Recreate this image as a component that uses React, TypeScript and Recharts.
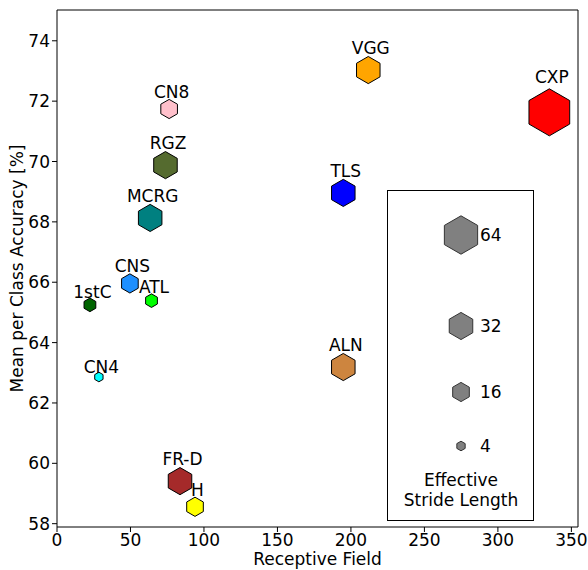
import React from 'react';
import { ScatterChart, Scatter, XAxis, YAxis, Legend, Label } from 'recharts';

const MODELS = ['CXP', 'VGG', 'CN8', 'RGZ', 'TLS', 'MCRG', 'CNS', 'ATL', '1stC', 'ALN', 'CN4', 'FR-D', 'H'];
const RECEPTIVE_FIELD = [335.0, 211.8, 76.3, 73.8, 194.8, 63.4, 49.6, 64.3, 22.4, 194.8, 28.5, 83.7, 93.9];
const ACCURACY = [71.63, 73.03, 71.74, 69.88, 68.96, 68.13, 65.96, 65.39, 65.25, 63.19, 62.86, 59.41, 58.56];
const STRIDE = [96, 32, 16, 32, 32, 32, 16, 8, 8, 32, 4, 32, 16];
const COLORS = ['#ff0000', '#ffa500', '#ffc0cb', '#556b2f', '#0000ff', '#008080', '#1e90ff', '#00ff00', '#006400', '#cd853f', '#00ffff', '#a52a2a', '#ffff00'];
const LEGEND_STRIDES = [64, 32, 16, 4];
const X_TICKS = [0, 50, 100, 150, 200, 250, 300, 350];
const Y_TICKS = [58, 60, 62, 64, 66, 68, 70, 72, 74];

const data = MODELS.map((name, i) => ({
  name,
  rf: RECEPTIVE_FIELD[i],
  acc: ACCURACY[i],
  stride: STRIDE[i],
  color: COLORS[i],
}));

const FONT = 'DejaVu Sans';
const FS = 17;
const K = 2.4;
const radius = (s: number) => K * Math.sqrt(s);

const hexPoints = (cx: number, cy: number, r: number) => {
  const pts: string[] = [];
  for (let k = 0; k < 6; k++) {
    const a = (-90 + 60 * k) * Math.PI / 180;
    pts.push(`${cx + r * Math.cos(a)},${cy + r * Math.sin(a)}`);
  }
  return pts.join(' ');
};

const HexShape = (props: any) => {
  const { cx, cy, payload } = props;
  const r = radius(payload.stride);
  return <polygon points={hexPoints(cx, cy, r)} fill={payload.color} stroke="#000" strokeWidth={1} />;
};

const LabelShape = (props: any) => {
  const { cx, cy, payload } = props;
  const r = radius(payload.stride);
  return (
    <text x={cx + 2.5} y={cy - (1.35 * r - 2)} textAnchor="middle" fontSize={FS} fontFamily={FONT} fill="#000">
      {payload.name}
    </text>
  );
};

const ROW_Y = [45, 136, 202, 256];

const StrideLegend = () => (
  <svg width={147} height={331} style={{ display: 'block' }}>
    <rect x={0.5} y={0.5} width={146} height={330} fill="#fff" stroke="#000" strokeWidth={1} />
    {LEGEND_STRIDES.map((s, i) => (
      <g key={s}>
        <polygon points={hexPoints(74, ROW_Y[i], radius(s))} fill="#808080" stroke="#333" strokeWidth={1} />
        <text x={93} y={ROW_Y[i]} dy="0.36em" fontSize={FS} fontFamily={FONT} fill="#000">{s}</text>
      </g>
    ))}
    <text x={74} y={296} textAnchor="middle" fontSize={FS} fontFamily={FONT} fill="#000">Effective</text>
    <text x={74} y={316} textAnchor="middle" fontSize={FS} fontFamily={FONT} fill="#000">Stride Length</text>
  </svg>
);

export default function App() {
  const tickStyle = { fontSize: FS, fontFamily: FONT, fill: '#000' };
  return (
    <div style={{ position: 'absolute', left: 0, top: 0 }}>
      <ScatterChart width={588} height={570} margin={{ top: 9, right: 9, left: 0, bottom: 0 }}>
        <XAxis
          xAxisId="b"
          type="number"
          dataKey="rf"
          domain={[0, 354.5]}
          ticks={X_TICKS}
          allowDataOverflow
          height={43}
          tickSize={5}
          tickMargin={2}
          tick={tickStyle}
          stroke="#000"
          tickLine={{ stroke: '#000' }}
          axisLine={{ stroke: '#000' }}
        >
          <Label
            content={(p: any) => {
              const vb = p.viewBox;
              return (
                <text x={vb.x + vb.width / 2} y={vb.y + 38} textAnchor="middle" fontSize={FS} fontFamily={FONT} fill="#000">
                  Receptive Field
                </text>
              );
            }}
          />
        </XAxis>
        <XAxis xAxisId="t" orientation="top" type="number" dataKey="rf" domain={[0, 354.5]} allowDataOverflow height={1} tick={false} tickLine={false} stroke="#000" axisLine={{ stroke: '#000' }} />
        <YAxis
          yAxisId="l"
          type="number"
          dataKey="acc"
          domain={[57.89, 75.02]}
          ticks={Y_TICKS}
          allowDataOverflow
          width={57}
          tickSize={5}
          tickMargin={2}
          tick={tickStyle}
          tickLine={{ stroke: '#000' }}
          axisLine={{ stroke: '#000' }}
        >
          <Label
            content={(p: any) => {
              const vb = p.viewBox;
              const x = vb.x + 23;
              const y = vb.y + vb.height / 2;
              return (
                <text x={x} y={y} transform={`rotate(-90, ${x}, ${y})`} textAnchor="middle" fontSize={FS} fontFamily={FONT} fill="#000">
                  Mean per Class Accuracy [%]
                </text>
              );
            }}
          />
        </YAxis>
        <YAxis yAxisId="r" orientation="right" type="number" dataKey="acc" domain={[57.89, 75.02]} allowDataOverflow width={1} tick={false} tickLine={false} stroke="#000" axisLine={{ stroke: '#000' }} />
        <Legend
          layout="vertical"
          align="center"
          verticalAlign="middle"
          content={() => <StrideLegend />}
          wrapperStyle={{ left: 387, top: 190, width: 147, height: 331 }}
        />
        <Scatter xAxisId="b" yAxisId="l" data={data} shape={HexShape} isAnimationActive={false} legendType="none" />
        <Scatter xAxisId="t" yAxisId="r" data={data} shape={LabelShape} isAnimationActive={false} legendType="none" />
      </ScatterChart>
    </div>
  );
}
